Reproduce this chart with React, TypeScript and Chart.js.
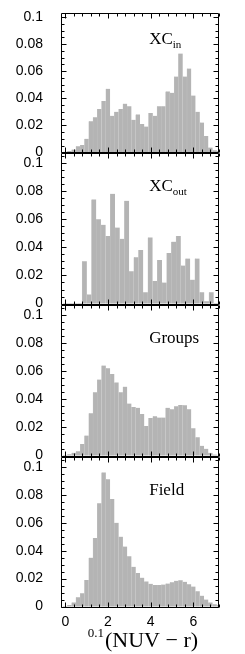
import { useEffect, useRef } from "react";
import { Chart, registerables } from "chart.js";

Chart.register(...registerables);

// ---- data -------------------------------------------------------------
const binCenters = [
  0, 0.2, 0.4, 0.6, 0.8, 1.0, 1.2, 1.4, 1.6, 1.8, 2.0, 2.2, 2.4, 2.6, 2.8, 3.0, 3.2, 3.4, 3.6,
  3.8, 4.0, 4.2, 4.4, 4.6, 4.8, 5.0, 5.2, 5.4, 5.6, 5.8, 6.0, 6.2, 6.4, 6.6, 6.8, 7.0, 7.2,
];
const xcOutCenters = [
  0.02, 0.24, 0.46, 0.68, 0.9, 1.12, 1.34, 1.56, 1.78, 2.0, 2.22, 2.44, 2.66, 2.88, 3.1, 3.32,
  3.54, 3.76, 3.98, 4.2, 4.42, 4.64, 4.86, 5.08, 5.3, 5.52, 5.74, 5.96, 6.18, 6.4, 6.62, 6.84,
  7.06, 7.28,
];
const xcInValues = [
  0.0005, 0.001, 0.002, 0.0045, 0.0055, 0.01, 0.023, 0.026, 0.032, 0.038, 0.047, 0.027, 0.03,
  0.032, 0.036, 0.034, 0.024, 0.028, 0.021, 0.019, 0.029, 0.027, 0.034, 0.034, 0.045, 0.044,
  0.056, 0.073, 0.056, 0.062, 0.042, 0.03, 0.022, 0.012, 0.0035, 0.0015, 0.001,
];
const xcOutValues = [
  0.0005, 0.0005, 0.0005, 0.0005, 0.03, 0.0065, 0.074, 0.06, 0.056, 0.048, 0.078, 0.054, 0.046,
  0.073, 0.023, 0.033, 0.038, 0.008, 0.047, 0.016, 0.031, 0.015, 0.036, 0.044, 0.048, 0.027,
  0.032, 0.017, 0.032, 0.008, 0.0016, 0.008, 0.0005, 0.0,
];
const groupsValues = [
  0.0005, 0.001, 0.002, 0.003, 0.0083, 0.0143, 0.03, 0.045, 0.054, 0.064, 0.062, 0.058, 0.052,
  0.045, 0.049, 0.037, 0.0345, 0.034, 0.0295, 0.021, 0.0267, 0.028, 0.027, 0.027, 0.034, 0.033,
  0.035, 0.036, 0.0357, 0.033, 0.0195, 0.013, 0.007, 0.0048, 0.002, 0.0007, 0.0003,
];
const fieldValues = [
  0.0005, 0.0012, 0.003, 0.0066, 0.0095, 0.019, 0.035, 0.049, 0.074, 0.096, 0.091, 0.077, 0.06,
  0.05, 0.043, 0.036, 0.0285, 0.024, 0.0207, 0.018, 0.0163, 0.0154, 0.0155, 0.0158, 0.0165,
  0.0175, 0.0185, 0.0188, 0.0178, 0.016, 0.0144, 0.011, 0.0078, 0.005, 0.003, 0.0017, 0.001,
];
const panelNames = ["XC", "XC", "Groups", "Field"];
const panelSubs = ["in", "out", "", ""];
const yTickValues = [0, 0.02, 0.04, 0.06, 0.08, 0.1];
const yTickLabels = ["0", "0.02", "0.04", "0.06", "0.08", "0.1"];
const xTickValues = [0, 2, 4, 6];
const xTickLabels = ["0", "2", "4", "6"];

// ---- layout -----------------------------------------------------------
const W = 245;
const H = 654;
const FRAME_LEFT = 61;
const FRAME_RIGHT = 219;
const X_MIN = -0.2;
const X_MAX = 7.2;
const PAD = 16;

type PanelSpec = {
  centers: number[];
  values: number[];
  name: string;
  sub: string;
  top: number;
  bottom: number;
  yMin: number;
  yMax: number;
  last: boolean;
};

const panels: PanelSpec[] = [
  { centers: binCenters, values: xcInValues, name: panelNames[0], sub: panelSubs[0], top: 13, bottom: 153, yMin: -0.0005, yMax: 0.103, last: false },
  { centers: xcOutCenters, values: xcOutValues, name: panelNames[1], sub: panelSubs[1], top: 153, bottom: 305, yMin: -0.001, yMax: 0.107, last: false },
  { centers: binCenters, values: groupsValues, name: panelNames[2], sub: panelSubs[2], top: 305, bottom: 457, yMin: -0.001, yMax: 0.107, last: false },
  { centers: binCenters, values: fieldValues, name: panelNames[3], sub: panelSubs[3], top: 457, bottom: 608, yMin: -0.001, yMax: 0.107, last: true },
];

const SANS = '"Liberation Sans", Arial, sans-serif';
const SERIF = '"Liberation Serif", "Times New Roman", serif';

function makeFramePlugin(spec: PanelSpec) {
  return {
    id: "frameTicks",
    afterDatasetsDraw(chart: any) {
      const { ctx, chartArea: a } = chart;
      const xs = chart.scales.x;
      const ys = chart.scales.y;
      ctx.save();
      ctx.strokeStyle = "#000";
      ctx.lineWidth = 1;
      const L = Math.round(a.left) + 0.5;
      const R = Math.round(a.right) - 0.5;
      const T = Math.round(a.top) + 0.5;
      const B = Math.round(a.bottom) - 0.5;
      ctx.beginPath();
      ctx.rect(L, T, R - L, B - T);
      const nY = Math.floor(spec.yMax / 0.005 + 1e-6);
      for (let i = 0; i <= nY; i++) {
        const v = i * 0.005;
        const len = i % 4 === 0 ? 5 : 3;
        const py = Math.round(ys.getPixelForValue(v)) + 0.5;
        ctx.moveTo(L, py);
        ctx.lineTo(L + len, py);
        ctx.moveTo(R, py);
        ctx.lineTo(R - len, py);
      }
      for (let i = 0; i <= 18; i++) {
        const v = i * 0.4;
        if (v > X_MAX + 1e-6) break;
        const len = i % 5 === 0 ? 5 : 3;
        const px = Math.round(xs.getPixelForValue(v)) + 0.5;
        ctx.moveTo(px, B);
        ctx.lineTo(px, B - len);
        ctx.moveTo(px, T);
        ctx.lineTo(px, T + len);
      }
      ctx.stroke();

      ctx.fillStyle = "#000";
      ctx.textBaseline = "alphabetic";
      ctx.textAlign = "left";
      const lx = xs.getPixelForValue(3.93);
      const ly = ys.getPixelForValue(0.08);
      ctx.font = `17px ${SERIF}`;
      ctx.fillText(spec.name, lx, ly);
      if (spec.sub) {
        const w = ctx.measureText(spec.name).width;
        ctx.font = `11px ${SERIF}`;
        ctx.fillText(spec.sub, lx + w, ly + 4);
      }

      if (spec.last) {
        ctx.font = `14px ${SANS}`;
        ctx.textAlign = "center";
        ctx.textBaseline = "middle";
        xTickValues.forEach((v, i) => {
          ctx.fillText(xTickLabels[i], xs.getPixelForValue(v), a.bottom + 14);
        });
        ctx.textBaseline = "alphabetic";
        ctx.textAlign = "left";
        const tx = a.left + 44;
        const ty = a.bottom + 39;
        ctx.font = `22px ${SERIF}`;
        ctx.fillText("(NUV \u2212 r)", tx, ty);
        ctx.font = `13px ${SERIF}`;
        ctx.textAlign = "right";
        ctx.fillText("0.1", tx - 1, ty - 10);
      }
      ctx.restore();
    },
  };
}

function Panel({ spec }: { spec: PanelSpec }) {
  const ref = useRef<HTMLCanvasElement | null>(null);
  const canvasTop = spec.top - PAD;
  const canvasH = spec.last ? H - canvasTop : spec.bottom - spec.top + 2 * PAD;
  const padBottom = canvasH - (spec.bottom - canvasTop);

  useEffect(() => {
    if (!ref.current) return;
    const chart = new Chart(ref.current, {
      type: "bar",
      data: {
        datasets: [
          {
            data: spec.centers.map((x, i) => ({ x, y: spec.values[i] })),
            backgroundColor: "#b4b4b4",
            borderColor: "#c2c2c2",
            borderWidth: { left: 0.5, right: 0, top: 0, bottom: 0 },
            borderSkipped: false,
            barPercentage: 1,
            categoryPercentage: 1,
            clip: 0,
          } as any,
        ],
      },
      plugins: [makeFramePlugin(spec)],
      options: {
        responsive: false,
        animation: false,
        devicePixelRatio: 1,
        layout: { padding: { left: 0, right: W - FRAME_RIGHT, top: PAD, bottom: padBottom } },
        plugins: { legend: { display: false }, tooltip: { enabled: false } },
        scales: {
          x: {
            type: "linear",
            offset: false,
            min: X_MIN,
            max: X_MAX,
            grid: { display: false, offset: false },
            border: { display: false },
            ticks: { display: false },
            afterBuildTicks: (axis: any) => {
              axis.ticks = xTickValues.map((value) => ({ value }));
            },
            afterFit: (axis: any) => {
              axis.height = 0;
              axis.paddingLeft = 0;
              axis.paddingRight = 0;
            },
          },
          y: {
            type: "linear",
            min: spec.yMin,
            max: spec.yMax,
            grid: { display: false },
            border: { display: false },
            ticks: {
              autoSkip: false,
              padding: 10,
              color: "#000",
              font: { family: SANS, size: 14 },
              callback: (v: any) => {
                const i = yTickValues.findIndex((t) => Math.abs(t - Number(v)) < 1e-9);
                return i >= 0 ? yTickLabels[i] : "";
              },
            },
            afterBuildTicks: (axis: any) => {
              axis.ticks = yTickValues.map((value) => ({ value }));
            },
            afterFit: (axis: any) => {
              axis.width = FRAME_LEFT;
              axis.paddingTop = 0;
              axis.paddingBottom = 0;
            },
          },
        },
      } as any,
    });
    return () => chart.destroy();
  }, []);

  return (
    <canvas
      ref={ref}
      width={W}
      height={canvasH}
      style={{ position: "absolute", left: 0, top: canvasTop, width: W, height: canvasH }}
    />
  );
}

export default function App() {
  return (
    <div style={{ position: "absolute", left: 0, top: 0, width: W, height: H, background: "#fff", overflow: "hidden" }}>
      {panels.map((p, i) => (
        <Panel key={i} spec={p} />
      ))}
    </div>
  );
}
